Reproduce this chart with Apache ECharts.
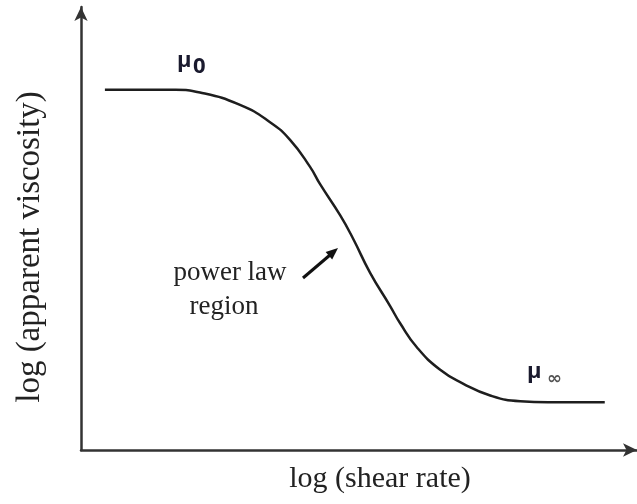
<!DOCTYPE html>
<html>
<head>
<meta charset="utf-8">
<script src="https://cdn.jsdelivr.net/npm/echarts@6/dist/echarts.min.js"></script>
<style>
  html, body { margin: 0; padding: 0; background: #fff; }
  #chart { width: 637px; height: 504px; }
</style>
</head>
<body>
<div id="chart"></div>
<script>
  // log shear rate / log viscosity, arbitrary units
  var shearRate = [0.43, 1.70, 2.14, 2.86, 3.40, 3.76, 4.12, 4.30, 4.66, 4.89, 5.20, 5.56, 5.74, 6.04, 6.46, 6.87, 7.36, 7.90, 8.40, 9.42];
  var viscosity = [8.13, 8.13, 8.07, 7.79, 7.40, 7.00, 6.39, 6.00, 5.30, 4.78, 4.00, 3.25, 2.86, 2.32, 1.81, 1.50, 1.23, 1.10, 1.08, 1.08];

  var points = shearRate.map(function (x, i) { return [x, viscosity[i]]; });

  var chart = echarts.init(document.getElementById('chart'));
  var serif = '"Liberation Serif", "DejaVu Serif", serif';

  chart.setOption({
    animation: false,
    grid: { left: 81, right: 0, top: 7, bottom: 54 },
    xAxis: {
      type: 'value', min: 0, max: 10,
      axisLine: { lineStyle: { color: '#333', width: 2.5 }, symbol: ['none', 'arrow'], symbolSize: [10, 14] },
      axisTick: { show: false }, axisLabel: { show: false }, splitLine: { show: false }
    },
    yAxis: {
      type: 'value', min: 0, max: 10,
      axisLine: { lineStyle: { color: '#333', width: 2.5 }, symbol: ['none', 'arrow'], symbolSize: [10, 14] },
      axisTick: { show: false }, axisLabel: { show: false }, splitLine: { show: false }
    },
    series: [{
      type: 'line',
      data: points,
      smooth: 0.5,
      showSymbol: false,
      lineStyle: { color: '#1e1e1e', width: 2.5 }
    }],
    graphic: [
      { type: 'text', x: 30, y: 247, rotation: Math.PI / 2,
        style: { text: 'log (apparent viscosity)', font: '33px ' + serif, fill: '#222', align: 'center', verticalAlign: 'middle' } },
      { type: 'text', x: 380, y: 479,
        style: { text: 'log (shear rate)', font: '30px ' + serif, fill: '#222', align: 'center', verticalAlign: 'middle' } },
      { type: 'text', x: 230, y: 273,
        style: { text: 'power law', font: '27px ' + serif, fill: '#222', align: 'center', verticalAlign: 'middle' } },
      { type: 'text', x: 224, y: 307,
        style: { text: 'region', font: '27px ' + serif, fill: '#222', align: 'center', verticalAlign: 'middle' } },
      { type: 'line', shape: { x1: 303, y1: 278, x2: 330, y2: 255 }, style: { stroke: '#111', lineWidth: 3 } },
      { type: 'polygon', shape: { points: [[338, 248], [332.2, 259.6], [325.6, 252.0]] }, style: { fill: '#111' } },
      { type: 'text', x: 177, y: 50,
        style: { text: 'μ', font: 'bold 22px "Open Sans", "DejaVu Sans", sans-serif', fill: '#1a1a2e' } },
      { type: 'text', x: 193, y: 56,
        style: { text: '0', font: 'bold 22px "Open Sans", "DejaVu Sans", sans-serif', fill: '#1a1a2e' } },
      { type: 'text', x: 527, y: 361,
        style: { text: 'μ', font: 'bold 22px "Open Sans", "DejaVu Sans", sans-serif', fill: '#1a1a2e' } },
      { type: 'text', x: 547, y: 370,
        style: { text: '∞', font: 'bold 18px "DejaVu Sans", sans-serif', fill: '#555' } }
    ]
  });
</script>
</body>
</html>
